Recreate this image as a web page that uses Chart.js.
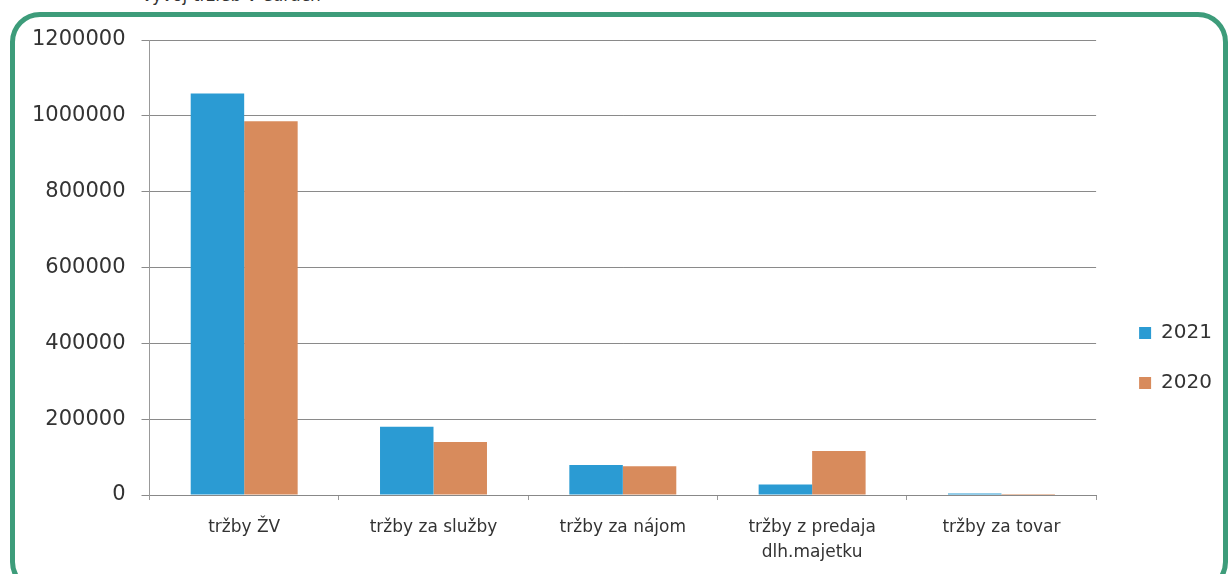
<!DOCTYPE html>
<html>
<head>
<meta charset="utf-8">
<script src="https://cdn.jsdelivr.net/npm/chart.js@4.4.0/dist/chart.umd.min.js"></script>
<style>
  body { margin: 0; background: #fff; width: 1232px; height: 574px; overflow: hidden; position: relative; }
  .title { position: absolute; left: 142px; top: -15px; font: 17px "DejaVu Sans", sans-serif; color: #333; }
  .frame { position: absolute; left: 10px; top: 12px; width: 1208px; height: 570px; border: 5px solid #3d9c7a; border-radius: 30px; }
  #wrap { position: absolute; left: 0; top: 0; width: 1232px; height: 594px; }
</style>
</head>
<body>
<div class="title">vývoj tržieb v eurách</div>
<div class="frame"></div>
<div id="wrap"><canvas id="myChart"></canvas></div>
<script>
// data
const categories = ['tržby ŽV', 'tržby za služby', 'tržby za nájom', ['tržby z predaja', 'dlh.majetku'], 'tržby za tovar']
const values2021 = [1059000, 180000, 79000, 28000, 4000]
const values2020 = [986000, 140000, 76000, 116000, 3000]
const yTicks = [0, 200000, 400000, 600000, 800000, 1000000, 1200000]

// move the legend lower / further right without touching the plot area
const legendShift = {
  id: 'legendShift',
  afterLayout(chart) {
    const lg = chart.legend
    lg.top += 48; lg.bottom += 48
    lg.left += 13; lg.right += 13
  }
}

const ctx = document.getElementById('myChart')
new Chart(ctx, {
  type: 'bar',
  data: {
    labels: categories,
    datasets: [
      { label: '2021', data: values2021, backgroundColor: '#2b9bd3' },
      { label: '2020', data: values2020, backgroundColor: '#d88b5c' }
    ]
  },
  options: {
    responsive: true,
    maintainAspectRatio: false,
    animation: false,
    layout: { padding: { left: 16, top: 40, right: 23, bottom: 14 } },
    datasets: { bar: { barPercentage: 1, categoryPercentage: 0.565 } },
    scales: {
      x: {
        grid: { drawOnChartArea: false, drawTicks: true, tickLength: 5, color: '#999' },
        border: { color: '#888' },
        ticks: { color: '#333', padding: 15, maxRotation: 0, font: { family: 'DejaVu Sans', size: 17, lineHeight: 1.47 } }
      },
      y: {
        min: 0,
        max: 1200000,
        afterBuildTicks(axis) { axis.ticks = yTicks.map(v => ({ value: v })) },
        grid: { color: '#8a8a8a', tickLength: 8 },
        border: { color: '#999' },
        ticks: { color: '#333', padding: 16, font: { family: 'DejaVu Sans', size: 21 }, callback: v => String(v) }
      }
    },
    plugins: {
      legend: {
        position: 'right',
        labels: {
          boxWidth: 12,
          boxHeight: 12,
          padding: 30,
          color: '#333',
          font: { family: 'DejaVu Sans', size: 20 }
        }
      },
      tooltip: { enabled: false }
    }
  },
  plugins: [legendShift]
})
</script>
</body>
</html>
